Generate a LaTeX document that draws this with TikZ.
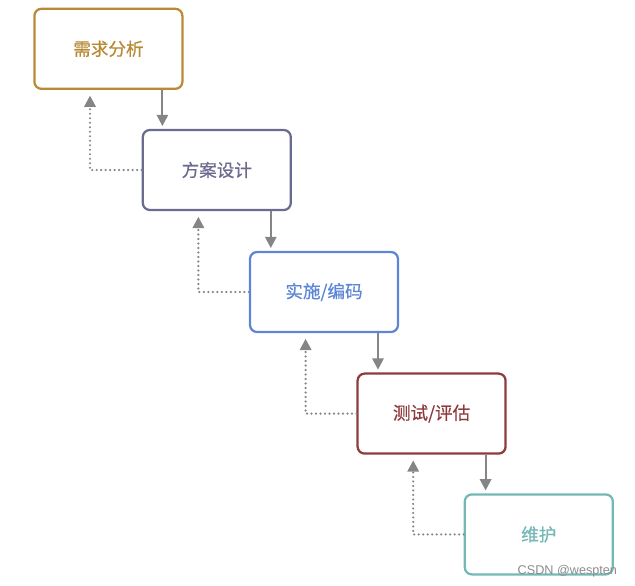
\documentclass[tikz,border=0pt]{standalone}
\usepackage{fontspec}
\newfontfamily\cjk[BoldFont={Noto Sans CJK SC}, BoldFeatures={FakeBold=0.6}]{Noto Sans CJK SC}
\newfontfamily\markfont{Liberation Sans}
\definecolor{reqcolor}{HTML}{B98A35}
\definecolor{plancolor}{HTML}{6B6B90}
\definecolor{codecolor}{HTML}{5D86D6}
\definecolor{testcolor}{HTML}{8E3B3B}
\definecolor{keepcolor}{HTML}{74B8B6}
\definecolor{arrowgray}{HTML}{858585}
\usepackage{tikz}
\usetikzlibrary{arrows.meta}

\begin{document}
\begin{tikzpicture}[
						stage/.style={draw=#1, text=#1, fill=white, minimum width=3.7cm, minimum height=2cm, rounded corners=5pt, line width=1.6pt, font=\cjk\bfseries\fontsize{12.5}{14}\selectfont},
						arrow/.style={-{Triangle[width=8pt,length=8pt]}, line width=1.5pt, color=arrowgray, shorten >=2pt},
						back/.style={-{Triangle[width=8pt,length=8pt]}, line width=1.7pt, line cap=round, dash pattern=on 0pt off 3.2pt, color=arrowgray, shorten >=4pt}
					]
					\useasboundingbox (0,0) rectangle (15.875,-14.625);
					\node[stage=reqcolor] (req) at (2.71,-1.22) {需求分析};
					\node[stage=plancolor] (plan) at (5.42,-4.25) {方案设计};
					\node[stage=codecolor] (code) at (8.1,-7.3) {实施/编码};
					\node[stage=testcolor] (test) at (10.79,-10.34) {测试/评估};
					\node[stage=keepcolor] (keep) at (13.47,-13.36) {维护};

					\draw[arrow] ([xshift=1.35cm]req.south) -- ([xshift=1.35cm]req.south |- plan.north);
					\draw[arrow] ([xshift=1.35cm]plan.south) -- ([xshift=1.35cm]plan.south |- code.north);
					\draw[arrow] ([xshift=1.35cm]code.south) -- ([xshift=1.35cm]code.south |- test.north);
					\draw[arrow] ([xshift=1.35cm]test.south) -- ([xshift=1.35cm]test.south |- keep.north);

					\draw[back] (plan.west) -| ([xshift=-0.46cm]req.south);
					\draw[back] (code.west) -| ([xshift=-0.46cm]plan.south);
					\draw[back] (test.west) -| ([xshift=-0.46cm]code.south);
					\draw[back] (keep.west) -| ([xshift=-0.46cm]test.south);

					\node[text=black!45, font=\markfont\fontsize{9}{10}\selectfont, anchor=east] (mark) at (15.55,-14.28) {CSDN @wespten};
				\end{tikzpicture}
\end{document}
